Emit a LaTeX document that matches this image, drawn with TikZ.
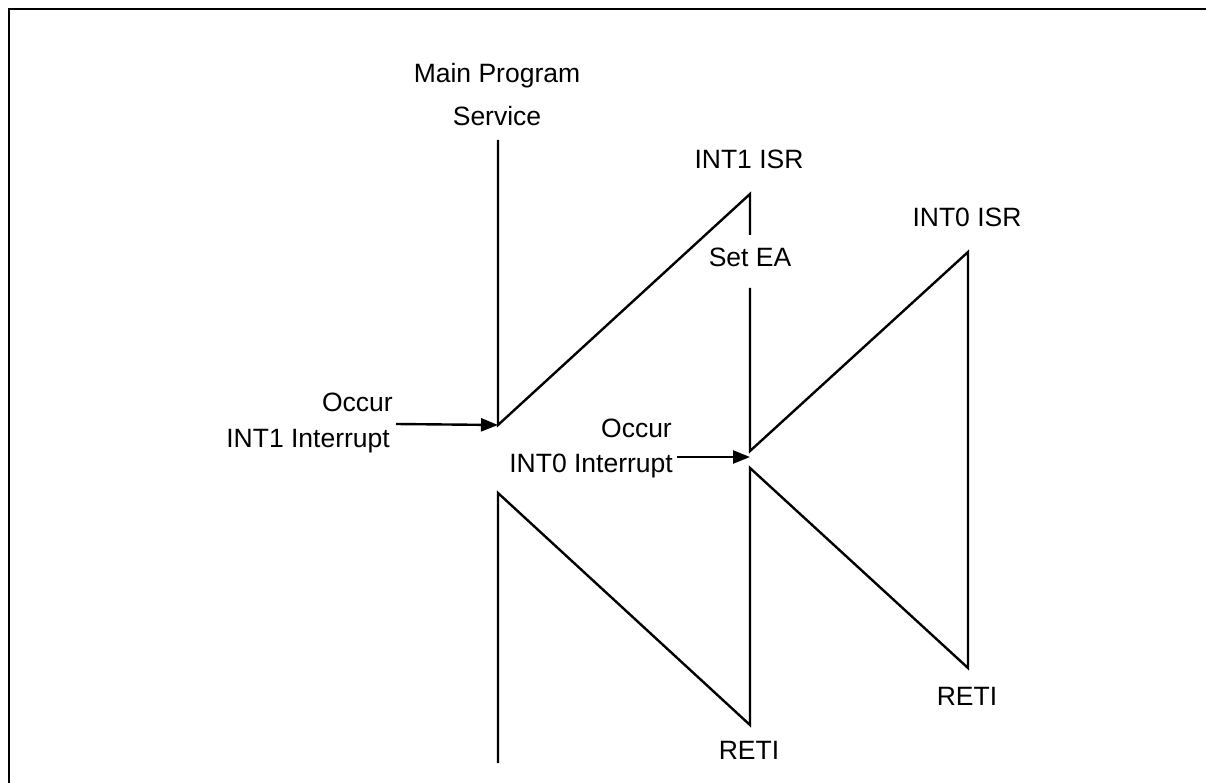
\documentclass[tikz,border=0pt]{standalone}
\usepackage{fontspec}
\setmainfont{Liberation Sans}
\usetikzlibrary{arrows.meta}
\begin{document}
\begin{tikzpicture}[x=1pt,y=-1pt,
  lbl/.style={inner sep=0pt,font=\fontsize{26.5}{30}\selectfont},
  wire/.style={line width=2.4pt,line join=miter},
  arr/.style={wire,-{Triangle[length=17pt,width=13pt]}},
  frame/.style={line width=2.8pt}]
\useasboundingbox (0,0) rectangle (1206,783);
% frame
\coordinate (fb) at (9,790);
\coordinate (ft) at (9,9);
\coordinate (fr) at (1212,9);
\draw[frame] (fb) -- (ft) -- (fr);
% labels
\node[lbl,anchor=base] (mp) at (497,83) {Main Program};
\node[lbl,anchor=base] (sv) at (497,126) {Service};
\node[lbl,anchor=base] (i1) at (749,169) {INT1 ISR};
\node[lbl,anchor=base] (ea) at (750,267) {Set EA};
\node[lbl,anchor=base] (i0) at (967,227) {INT0 ISR};
\node[lbl,anchor=base east] (oc1) at (393,411) {Occur};
\node[lbl,anchor=base east] (ii1) at (390,447) {INT1 Interrupt};
\node[lbl,anchor=base east] (oc0) at (672,437) {Occur};
\node[lbl,anchor=base east] (ii0) at (673,472) {INT0 Interrupt};
\node[lbl,anchor=base] (r1) at (749,759) {RETI};
\node[lbl,anchor=base] (r0) at (967,705) {RETI};
% vertices
\coordinate (m0) at (498,140);
\coordinate (m1) at (498,425);
\coordinate (a0) at (750,194);
\coordinate (a1) at (750,235);
\coordinate (a2) at (750,288);
\coordinate (a3) at (750,451);
\coordinate (b0) at (968,252);
\coordinate (b1) at (968,668);
\coordinate (c0) at (750,468);
\coordinate (c1) at (750,725);
\coordinate (d0) at (498,493);
\coordinate (d1) at (498,763);
\coordinate (s1) at (396,424);
\coordinate (s0) at (677,457);
\coordinate (t0) at (750,457);
% connectors
\draw[wire] (m0) -- (m1) -- (a0) -- (a1);
\draw[wire] (a2) -- (a3) -- (b0) -- (b1) -- (c0) -- (c1) -- (d0) -- (d1);
\draw[arr] (s1) -- (m1);
\draw[arr] (s0) -- (t0);
\end{tikzpicture}
\end{document}
